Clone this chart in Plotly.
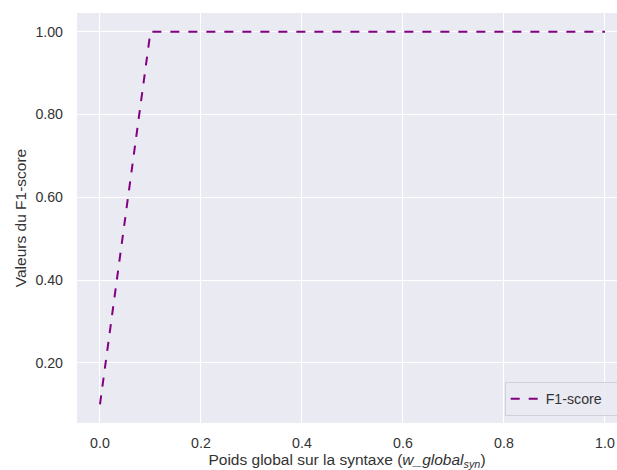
import plotly.graph_objects as go

x_vals = [0.0, 0.1, 0.2, 0.3, 0.4, 0.5, 0.6, 0.7, 0.8, 0.9, 1.0]
f1_scores = [0.1, 1.0, 1.0, 1.0, 1.0, 1.0, 1.0, 1.0, 1.0, 1.0, 1.0]
x_ticks = [0.0, 0.2, 0.4, 0.6, 0.8, 1.0]
x_tick_labels = ["0.0", "0.2", "0.4", "0.6", "0.8", "1.0"]
y_ticks = [0.2, 0.4, 0.6, 0.8, 1.0]
y_tick_labels = ["0.20", "0.40", "0.60", "0.80", "1.00"]

FONT = "Liberation Sans, Arial, sans-serif"
TICK_SIZE = 14.2
LABEL_SIZE = 15.5

fig = go.Figure()
fig.add_trace(go.Scatter(
    x=x_vals, y=f1_scores, mode="lines", name="F1-score",
    line=dict(color="#800080", width=2, dash="dash"),
))

fig.update_layout(
    width=617, height=470,
    margin=dict(l=77, r=0, t=13, b=47, autoexpand=False),
    paper_bgcolor="white",
    plot_bgcolor="#EAEAF2",
    font=dict(family=FONT, size=TICK_SIZE, color="#333333"),
    showlegend=True,
    legend=dict(
        orientation="h", entrywidth=120,
        x=0.792, y=0.017, xanchor="left", yanchor="bottom",
        bgcolor="rgba(234,234,242,0.85)", bordercolor="#d0d0d8", borderwidth=1,
        font=dict(family=FONT, size=TICK_SIZE, color="#333333"),
        itemwidth=30,
    ),
    xaxis=dict(
        range=[-0.0455, 1.0238],
        tickvals=x_ticks, ticktext=x_tick_labels,
        tickfont=dict(size=TICK_SIZE),
        showgrid=True, gridcolor="white", gridwidth=1,
        zeroline=False, showline=False, ticks="",
        ticklabelstandoff=10, automargin=False,
        title=dict(text="Poids global sur la syntaxe (<i>w_global</i><sub><i>syn</i></sub>)",
                   font=dict(size=LABEL_SIZE), standoff=8),
    ),
    yaxis=dict(
        range=[0.055, 1.045],
        tickvals=y_ticks, ticktext=y_tick_labels,
        tickfont=dict(size=TICK_SIZE),
        showgrid=True, gridcolor="white", gridwidth=1,
        zeroline=False, showline=False, ticks="",
        ticklabelstandoff=13, automargin=False,
        title=dict(text="Valeurs du F1-score", font=dict(size=LABEL_SIZE), standoff=4),
    ),
)

fig.write_html(
    "out.html",
    config={"displayModeBar": False},
    post_script="document.body.style.margin='0';document.body.style.overflow='hidden';",
)
